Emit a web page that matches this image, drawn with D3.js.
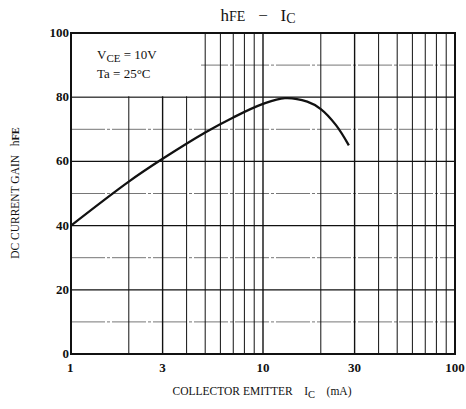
<!DOCTYPE html>
<html>
<head>
<meta charset="utf-8">
<script src="https://cdn.jsdelivr.net/npm/d3@7"></script>
<style>
  body { margin: 0; background: #fff; }
  text { font-family: "Liberation Serif", "DejaVu Serif", serif; fill: #111; white-space: pre; }
</style>
</head>
<body>
<div id="chart"></div>
<script>
let width = 466,
    height = 409,
    margin = ({ top: 33, right: 11, bottom: 55, left: 71 });

// data
const icValues = [1, 2, 3, 5, 7, 10, 13, 17, 20, 24, 28];
const hfeValues = [40, 53.7, 60.8, 69.0, 73.7, 77.9, 79.7, 78.6, 76.3, 71.3, 65];
const xTickLabels = [1, 3, 10, 30, 100];
const yTickLabels = [0, 20, 40, 60, 80, 100];
const yMinor = [10, 30, 50, 70, 90];
const xGrid = [2, 3, 4, 5, 6, 7, 8, 9, 10, 20, 30, 40, 50, 60, 70, 80, 90];

const svg = d3.select("#chart")
  .append("svg")
  .attr("width", width)
  .attr("height", height);

let x = d3.scaleLog()
  .domain([1, 100])
  .range([margin.left, width - margin.right]);

let y = d3.scaleLinear()
  .domain([0, 100])
  .range([height - margin.bottom, margin.top]);

// minor horizontal grid (dashed, lighter)
svg.append("g")
  .selectAll("line")
  .data(yMinor)
  .join("line")
  .attr("x1", margin.left).attr("x2", width - margin.right)
  .attr("y1", d => y(d)).attr("y2", d => y(d))
  .attr("stroke", "#666")
  .attr("stroke-width", 0.9)
  .attr("stroke-dasharray", "34,2,3,2");

// vertical grid
svg.append("g")
  .selectAll("line")
  .data(xGrid)
  .join("line")
  .attr("x1", d => x(d)).attr("x2", d => x(d))
  .attr("y1", margin.top).attr("y2", height - margin.bottom)
  .attr("stroke", "#111")
  .attr("stroke-width", d => (d === 10 || d === 30 || d === 3) ? 1.4 : 1);

// major horizontal grid
svg.append("g")
  .selectAll("line")
  .data([20, 40, 60, 80])
  .join("line")
  .attr("x1", margin.left).attr("x2", width - margin.right)
  .attr("y1", d => y(d)).attr("y2", d => y(d))
  .attr("stroke", "#111")
  .attr("stroke-width", 1.2);

// condition box covers the grid in the upper-left corner
svg.append("rect")
  .attr("x", margin.left + 1)
  .attr("y", margin.top + 1)
  .attr("width", x(4.7) - margin.left)
  .attr("height", y(80) - margin.top - 2)
  .attr("fill", "#fff");

const cond = svg.append("g").attr("font-size", 13);
let t1 = cond.append("text").attr("x", 97).attr("y", 59);
t1.append("tspan").text("V");
t1.append("tspan").attr("font-size", 11).attr("dy", 3).text("CE");
t1.append("tspan").attr("dy", -3).text(" = 10V");
cond.append("text").attr("x", 97).attr("y", 78).text("Ta = 25°C");

// frame
svg.append("rect")
  .attr("x", margin.left)
  .attr("y", margin.top)
  .attr("width", width - margin.left - margin.right)
  .attr("height", height - margin.top - margin.bottom)
  .attr("fill", "none")
  .attr("stroke", "#111")
  .attr("stroke-width", 2);

// curve
const line = d3.line()
  .x((d, i) => x(icValues[i]))
  .y(d => y(d))
  .curve(d3.curveCatmullRom.alpha(0.5));

svg.append("path")
  .datum(hfeValues)
  .attr("d", line)
  .attr("fill", "none")
  .attr("stroke", "#111")
  .attr("stroke-width", 2.3);

// axes labels
svg.append("g")
  .selectAll("text")
  .data(xTickLabels)
  .join("text")
  .attr("x", d => x(d))
  .attr("y", height - margin.bottom + 18)
  .attr("text-anchor", (d, i) => i === 0 ? "start" : "middle")
  .attr("dx", (d, i) => i === 0 ? -4 : 0)
  .attr("font-size", 13)
  .attr("font-weight", "bold")
  .text(d => d);

svg.append("g")
  .selectAll("text")
  .data(yTickLabels)
  .join("text")
  .attr("x", margin.left - 2)
  .attr("y", d => y(d) + 4)
  .attr("text-anchor", "end")
  .attr("font-size", 13)
  .attr("font-weight", "bold")
  .text(d => d);

// title
let title = svg.append("text")
  .attr("x", 258)
  .attr("y", 21)
  .attr("text-anchor", "middle")
  .attr("font-size", 17);
title.append("tspan").text("h");
title.append("tspan").attr("font-size", 14).text("FE");
title.append("tspan").text("   −   I");
title.append("tspan").attr("font-size", 14).attr("dy", 2).text("C");

// x label
let xl = svg.append("text")
  .attr("x", 262)
  .attr("y", 395)
  .attr("text-anchor", "middle")
  .attr("font-size", 11.5);
xl.append("tspan").text("COLLECTOR EMITTER    I");
xl.append("tspan").attr("font-size", 10.5).attr("dy", 3).text("C");
xl.append("tspan").attr("dy", -3).text("    (mA)");

// y label
let yl = svg.append("text")
  .attr("transform", "translate(19,193) rotate(-90)")
  .attr("text-anchor", "middle")
  .attr("font-size", 11.5);
yl.append("tspan").text("DC CURRENT GAIN   h");
yl.append("tspan").attr("font-size", 10.5).attr("font-weight", "bold").text("FE");
</script>
</body>
</html>
